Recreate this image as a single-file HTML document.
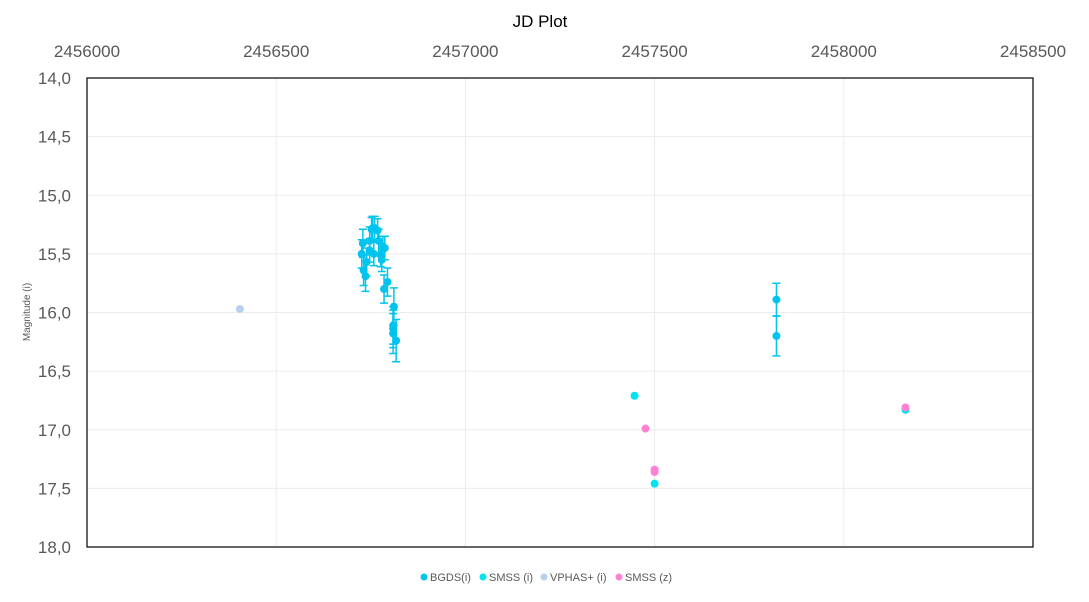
<!DOCTYPE html>
<html><head><meta charset="utf-8"><style>
body{margin:0;background:#fff;}
svg text{font-family:"Liberation Sans",sans-serif;}
</style></head><body>
<svg id="chart" width="1089" height="597" xmlns="http://www.w3.org/2000/svg">
<rect width="1089" height="597" fill="#fff"/>
<text x="540" y="27" text-anchor="middle" font-size="17" fill="#000">JD Plot</text>
<g id="grid"></g>
<g id="ticks"></g>
<rect x="87" y="78" width="946" height="469" fill="none" stroke="#000" stroke-width="1.2"/>
<text transform="translate(30,312) rotate(-90)" text-anchor="middle" font-size="10" fill="#595959">Magnitude (i)</text>
<g id="marks"></g>
<g id="legend"></g>
</svg>
<script>
const xTicks=[2456000,2456500,2457000,2457500,2458000,2458500];
const yTicks=[14,14.5,15,15.5,16,16.5,17,17.5,18];
const bgdsJD=[2456726,2456729,2456731,2456736,2456739,2456747,2456752,2456755,2456747,2456758,2456760,2456768,2456771,2456776,2456779,2456782,2456787,2456785,2456794,2456811,2456809,2456809,2456817,2456809,2457822,2457822];
const bgdsMag=[15.50,15.41,15.64,15.69,15.57,15.39,15.29,15.28,15.47,15.50,15.28,15.30,15.39,15.51,15.55,15.45,15.45,15.80,15.74,15.95,16.14,16.18,16.24,16.11,15.89,16.20];
const bgdsErr=[0.12,0.12,0.13,0.13,0.12,0.12,0.1,0.1,0.1,0.1,0.1,0.1,0.1,0.1,0.1,0.1,0.1,0.12,0.12,0.16,0.16,0.17,0.18,0.16,0.14,0.17];
const smssIJD=[2457447,2457500,2458163];
const smssIMag=[16.71,17.46,16.83];
const vphasJD=[2456404];
const vphasMag=[15.97];
const smssZJD=[2457476,2457500,2457500,2458163];
const smssZMag=[16.99,17.34,17.36,16.81];
const L=87,R=1033,T=78,B=547;
const X=v=>L+(v-2456000)/2500*(R-L);
const Y=v=>T+(v-14)/4*(B-T);
const NS="http://www.w3.org/2000/svg";
function mk(tag,attrs,parent){const e=document.createElementNS(NS,tag);for(const k in attrs)e.setAttribute(k,attrs[k]);document.getElementById(parent).appendChild(e);return e;}
xTicks.forEach(t=>{
 if(t>2456000&&t<2458500){const g=mk('line',{x1:X(t),x2:X(t),y1:T,y2:B,stroke:'#ebebeb'},'grid');
 
 }
 const e=mk('text',{x:X(t),y:57,'text-anchor':'middle','font-size':17,fill:'#595959'},'ticks');e.textContent=t;
 
 
});
yTicks.forEach(t=>{
 if(t>14&&t<18){const g=mk('line',{x1:L,x2:R,y1:Y(t),y2:Y(t),stroke:'#ebebeb'},'grid');
 
 }
 const e=mk('text',{x:71,y:Y(t)+6,'text-anchor':'end','font-size':17,fill:'#595959'},'ticks');e.textContent=t.toFixed(1).replace('.',',');
 
 
});
bgdsJD.forEach((j,i)=>{
 const x=X(j),y1=Y(bgdsMag[i]-bgdsErr[i]),y2=Y(bgdsMag[i]+bgdsErr[i]);
 const eb=mk('path',{d:`M${x},${y1}V${y2}M${x-4},${y1}H${x+4}M${x-4},${y2}H${x+4}`,stroke:'#00c4ee','stroke-width':1.5,fill:'none'},'marks');
 
 
});
function pts(js,ms,col,name){js.forEach((j,i)=>{const c=mk('circle',{cx:X(j),cy:Y(ms[i]),r:4,fill:col},'marks');
 
 });}
pts(vphasJD,vphasMag,'#b8d0ec','vphas-point');
pts(bgdsJD,bgdsMag,'#00c4ee','bgds-point');
pts(smssIJD,smssIMag,'#00e4f0','smss-i-point');
pts(smssZJD,smssZMag,'#ff80d4','smss-z-point');
const leg=[['BGDS(i)','#00c4ee',424],['SMSS (i)','#00e4f0',483],['VPHAS+ (i)','#b8d0ec',544],['SMSS (z)','#ff80d4',619]];
leg.forEach(l=>{const c=mk('circle',{cx:l[2],cy:577,r:3.5,fill:l[1]},'legend');
 
 
 const t=mk('text',{x:l[2]+6,y:581,'font-size':11,fill:'#595959'},'legend');t.textContent=l[0];
 
 });
</script>
</body></html>
